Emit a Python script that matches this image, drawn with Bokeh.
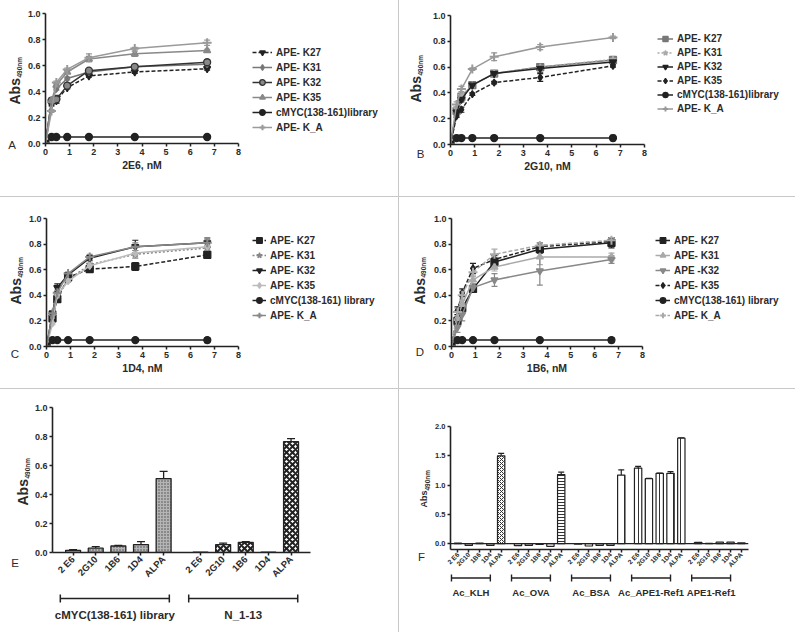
import math
from bokeh.plotting import figure
from bokeh.models import (FixedTicker, PrintfTickFormatter, Label, Legend, LegendItem,
                          Whisker, TeeHead, ColumnDataSource, Span, Range1d)
from bokeh.layouts import row, column
from bokeh.embed import file_html
from bokeh.resources import INLINE

FONT = "Liberation Sans"
TXT = "#2b2b2b"
AX = "#222222"

# ---------------- data ----------------
conc = [0, 0.25, 0.45, 0.9, 1.8, 3.7, 6.7]
x_ticks = [0, 1, 2, 3, 4, 5, 6, 7, 8]
y_ticks = [0.0, 0.2, 0.4, 0.6, 0.8, 1.0]

A_labels = ["APE- K27", "APE- K31", "APE- K32", "APE- K35", "cMYC(138-161)library", "APE- K_A"]
A_K27 = [0, 0.30, 0.33, 0.43, 0.52, 0.55, 0.575]
A_K31 = [0, 0.32, 0.42, 0.50, 0.55, 0.59, 0.61]
A_K32 = [0, 0.33, 0.34, 0.445, 0.56, 0.59, 0.625]
A_K35 = [0, 0.33, 0.45, 0.55, 0.65, 0.69, 0.715]
A_cMYC = [0, 0.05, 0.05, 0.05, 0.05, 0.05, 0.05]
A_KA = [0, 0.25, 0.47, 0.57, 0.66, 0.73, 0.775]
A_err = [[0, 0.01, 0.02, 0.01, 0.01, 0.01, 0.01],
         [0, 0.01, 0.01, 0.01, 0.01, 0.01, 0.01],
         [0, 0.02, 0.03, 0.02, 0.01, 0.01, 0.02],
         [0, 0.01, 0.01, 0.01, 0.02, 0.02, 0.01],
         [0, 0, 0, 0, 0, 0, 0.015],
         [0, 0.01, 0.01, 0.01, 0.03, 0.01, 0.02]]

B_labels = ["APE- K27", "APE- K31", "APE- K32", "APE- K35", "cMYC(138-161)library", "APE- K_A"]
B_K27 = [0, 0.26, 0.37, 0.46, 0.55, 0.60, 0.655]
B_K31 = [0, 0.28, 0.38, 0.46, 0.55, 0.60, 0.66]
B_K32 = [0, 0.25, 0.35, 0.46, 0.55, 0.59, 0.64]
B_K35 = [0, 0.22, 0.27, 0.39, 0.48, 0.52, 0.61]
B_cMYC = [0, 0.05, 0.05, 0.05, 0.05, 0.05, 0.05]
B_KA = [0, 0.31, 0.43, 0.585, 0.68, 0.755, 0.83]
B_err = [[0, 0.01, 0.02, 0.01, 0.02, 0.02, 0.01],
         [0, 0.01, 0.01, 0.01, 0.01, 0.01, 0.02],
         [0, 0.01, 0.02, 0.01, 0.02, 0.03, 0.01],
         [0, 0.01, 0.02, 0.01, 0.01, 0.03, 0.01],
         [0, 0, 0, 0, 0, 0, 0.02],
         [0, 0.02, 0.02, 0.01, 0.03, 0.02, 0.01]]

C_labels = ["APE- K27", "APE- K31", "APE- K32", "APE- K35", "cMYC(138-161) library", "APE- K_A"]
C_K27 = [0, 0.22, 0.37, 0.54, 0.605, 0.625, 0.716]
C_K31 = [0, 0.24, 0.40, 0.52, 0.64, 0.72, 0.77]
C_K32 = [0, 0.26, 0.46, 0.56, 0.69, 0.78, 0.81]
C_K35 = [0, 0.18, 0.40, 0.51, 0.63, 0.73, 0.78]
C_cMYC = [0, 0.05, 0.05, 0.05, 0.05, 0.05, 0.05]
C_KA = [0, 0.26, 0.42, 0.57, 0.70, 0.78, 0.81]
C_err = [[0, 0.02, 0.02, 0.01, 0.01, 0.03, 0.01],
         [0, 0.02, 0.02, 0.01, 0.01, 0.03, 0.02],
         [0, 0.02, 0.03, 0.02, 0.02, 0.05, 0.03],
         [0, 0.01, 0.02, 0.01, 0.01, 0.02, 0.02],
         [0, 0, 0, 0, 0, 0, 0.02],
         [0, 0.02, 0.02, 0.01, 0.02, 0.03, 0.04]]

D_labels = ["APE- K27", "APE- K31", "APE -K32", "APE- K35", "cMYC(138-161) library", "APE- K_A"]
D_K27 = [0, 0.20, 0.30, 0.45, 0.66, 0.76, 0.81]
D_K31 = [0, 0.22, 0.33, 0.52, 0.62, 0.70, 0.70]
D_K32 = [0, 0.15, 0.25, 0.46, 0.52, 0.59, 0.68]
D_K35 = [0, 0.28, 0.42, 0.61, 0.68, 0.78, 0.82]
D_cMYC = [0, 0.05, 0.05, 0.05, 0.05, 0.05, 0.05]
D_KA = [0, 0.27, 0.40, 0.58, 0.72, 0.79, 0.83]
D_err = [[0, 0.03, 0.03, 0.02, 0.03, 0.03, 0.04],
         [0, 0.03, 0.03, 0.03, 0.03, 0.06, 0.03],
         [0, 0.04, 0.05, 0.03, 0.05, 0.11, 0.03],
         [0, 0.03, 0.03, 0.04, 0.03, 0.03, 0.03],
         [0, 0, 0, 0, 0, 0, 0.02],
         [0, 0.03, 0.03, 0.03, 0.04, 0.02, 0.02]]

E_cats = ["2 E6", "2G10", "1B6", "1D4", "ALPA"]
E_groups = ["cMYC(138-161) library", "N_1-13"]
E_g1 = [0.015, 0.03, 0.045, 0.055, 0.51]
E_g1_err = [0.005, 0.01, 0.004, 0.02, 0.05]
E_g2 = [0.002, 0.055, 0.07, 0.002, 0.765]
E_g2_err = [0.0, 0.01, 0.004, 0.0, 0.02]

F_cats = ["2 E6", "2G10", "1B6", "1D4", "ALPA"]
F_groups = ["Ac_KLH", "Ac_OVA", "Ac_BSA", "Ac_APE1-Ref1", "APE1-Ref1"]
F_KLH = [0.008, -0.03, 0.01, -0.03, 1.50]
F_OVA = [-0.035, -0.03, -0.015, -0.045, 1.18]
F_BSA = [-0.01, -0.04, -0.03, -0.03, 1.17]
F_ACAPE = [1.29, 1.11, 1.20, 1.20, 1.80]
F_APE = [0.02, 0.005, 0.025, 0.025, 0.015]
F_KLH_err = [0, 0, 0, 0, 0.04]
F_OVA_err = [0, 0, 0, 0, 0.04]
F_BSA_err = [0, 0, 0, 0, 0.09]
F_ACAPE_err = [0.03, 0.005, 0.005, 0.03, 0.005]
F_APE_err = [0, 0, 0, 0, 0]

# ---------------- styles ----------------
# (color, marker, dash, fill)
A_styles = [("#222222", "inverted_triangle", "4 2", "#222222"),
            ("#777777", "diamond", "solid", "#777777"),
            ("#333333", "circle", "solid", "#888888"),
            ("#888888", "triangle", "solid", "#888888"),
            ("#222222", "circle", "solid", "#222222"),
            ("#9a9a9a", "cross", "solid", "#9a9a9a")]
B_styles = [("#777777", "square", "solid", "#777777"),
            ("#aaaaaa", "star", "2 2", "#aaaaaa"),
            ("#222222", "inverted_triangle", "solid", "#222222"),
            ("#222222", "diamond", "4 2", "#222222"),
            ("#222222", "circle", "solid", "#222222"),
            ("#999999", "cross", "solid", "#999999")]
C_styles = [("#222222", "square", "4 2", "#222222"),
            ("#888888", "star", "2 2", "#888888"),
            ("#222222", "inverted_triangle", "solid", "#222222"),
            ("#bbbbbb", "diamond", "solid", "#bbbbbb"),
            ("#222222", "circle", "solid", "#222222"),
            ("#888888", "cross", "solid", "#888888")]
D_styles = [("#222222", "square", "solid", "#222222"),
            ("#aaaaaa", "triangle", "solid", "#aaaaaa"),
            ("#888888", "inverted_triangle", "solid", "#888888"),
            ("#222222", "diamond", "4 2", "#222222"),
            ("#222222", "circle", "solid", "#222222"),
            ("#aaaaaa", "cross", "4 2", "#aaaaaa")]

WHITE = {"background-color": "white"}
GREY = {"background-color": "#c8c8c8"}


def new_fig(**kw):
    p = figure(output_backend="svg", toolbar_location=None, **kw)
    p.frame_align = False
    return p


def style_axes(p, fs="9px", fw="bold"):
    for ax in (p.xaxis[0], p.yaxis[0]):
        ax.axis_line_color = AX
        ax.axis_line_width = 1.6
        ax.major_tick_line_color = AX
        ax.major_tick_line_width = 1.5
        ax.major_tick_out = 3
        ax.major_tick_in = 0
        ax.minor_tick_line_color = None
        ax.major_label_text_font = FONT
        ax.major_label_text_font_size = fs
        ax.major_label_text_font_style = fw
        ax.major_label_text_color = TXT
        ax.major_label_standoff = 2
    p.xgrid.visible = False
    p.ygrid.visible = False
    p.outline_line_color = None


def blank_fig(w, h, xr, yr):
    s = new_fig(width=w, height=h, x_range=xr, y_range=yr, min_border=0,
                min_border_left=0, min_border_right=0, min_border_top=0, min_border_bottom=0,
                x_axis_location=None, y_axis_location=None)
    s.outline_line_color = None
    for g in s.grid:
        g.visible = False
    return s


def side_fig(ws, h, letter, letter_xy, abs_xy, big="14px", small="6.5px", blen=27, dx=4):
    """Left strip with the y-axis title and the panel letter (cell pixels, from top-left)."""
    s = blank_fig(ws, h, (0, ws), (0, h))
    ax, ay = abs_xy
    s.add_layout(Label(x=ax, y=h - ay, text="Abs", angle=math.pi / 2, text_align="left",
                       text_baseline="middle", text_font=FONT, text_font_size=big,
                       text_font_style="bold", text_color=TXT))
    s.add_layout(Label(x=ax + dx, y=h - ay + blen, text="490nm", angle=math.pi / 2,
                       text_align="left", text_baseline="middle", text_font=FONT,
                       text_font_size=small, text_font_style="bold", text_color=TXT))
    lx, ly = letter_xy
    s.add_layout(Label(x=lx, y=h - ly, text=letter, text_align="center",
                       text_baseline="middle", text_font=FONT, text_font_size="11.5px",
                       text_color=TXT))
    return s


def legend_fig(w, h, labels, series, styles, loc, glyph_w, item_h):
    """Legend strip; its renderers carry the real series but on an off-screen range."""
    f = blank_fig(w, h, (0, w), (0, h))
    f.extra_x_ranges = {"off": Range1d(1000, 1001)}
    items = []
    for lab, ys, (col, mk, dash, fill) in zip(labels, series, styles):
        lr = f.line(conc, ys, x_range_name="off", line_color=col, line_width=1.5,
                    line_dash=dash)
        sr = f.scatter(conc, ys, x_range_name="off", marker=mk,
                       size=7 if mk != "cross" else 9, line_color=col, fill_color=fill,
                       line_width=1.3 if mk != "cross" else 2)
        items.append(LegendItem(label=lab, renderers=[lr, sr]))
    leg = Legend(items=items, location=loc, padding=0, margin=0, spacing=1,
                 glyph_width=glyph_w, glyph_height=item_h, label_height=item_h,
                 label_standoff=4, border_line_alpha=0, background_fill_alpha=0,
                 label_text_font=FONT, label_text_font_size="10px",
                 label_text_font_style="bold", label_text_color=TXT)
    f.add_layout(leg)
    return f


def curve_cell(cw, ch, box, ws, xlabel, labels, series, errs, styles,
               letter, letter_xy, abs_xy, leg_glyph_x, leg_top, glyph_w, item_h):
    l, t, r, b = box
    rb = 6
    p = new_fig(width=r + rb - ws, height=ch, x_range=(0, 8), y_range=(0, 1.0),
                min_border_left=l - ws, min_border_right=rb, min_border_top=t,
                min_border_bottom=ch - b)
    style_axes(p)
    p.xaxis.ticker = FixedTicker(ticks=x_ticks)
    p.yaxis.ticker = FixedTicker(ticks=y_ticks)
    p.yaxis.formatter = PrintfTickFormatter(format="%.1f")
    p.xaxis.axis_label = xlabel
    p.xaxis.axis_label_text_font = FONT
    p.xaxis.axis_label_text_font_size = "10.5px"
    p.xaxis.axis_label_text_font_style = "bold"
    p.xaxis.axis_label_text_color = TXT
    p.xaxis.axis_label_standoff = 1
    for ys, es, (col, mk, dash, fill) in zip(series, errs, styles):
        p.line(conc, ys, line_color=col, line_width=1.5, line_dash=dash)
        p.scatter(conc, ys, marker=mk, size=7 if mk != "cross" else 9,
                  line_color=col, fill_color=fill, line_width=1.3 if mk != "cross" else 2)
        xs = [c for c, e in zip(conc, es) if e > 0]
        up = [v + e for v, e in zip(ys, es) if e > 0]
        lo = [v - e for v, e in zip(ys, es) if e > 0]
        if xs:
            src = ColumnDataSource(dict(x=xs, up=up, lo=lo))
            p.add_layout(Whisker(source=src, base="x", upper="up", lower="lo",
                                 line_color=col, line_width=1.2,
                                 upper_head=TeeHead(size=6, line_color=col, line_width=1.2),
                                 lower_head=TeeHead(size=6, line_color=col, line_width=1.2)))
    s = side_fig(ws, ch, letter, letter_xy, abs_xy)
    lw = cw - (r + rb)
    n = len(labels)
    leg_h = n * item_h + (n - 1)
    lf = legend_fig(lw, ch, labels, series, styles,
                    (leg_glyph_x - (r + rb), ch - (leg_top + leg_h)), glyph_w, item_h)
    return row(s, p, lf, spacing=0, styles=WHITE)


cellA = curve_cell(398, 196, (43, 13, 238, 143), 24, "2E6, nM", A_labels,
                   [A_K27, A_K31, A_K32, A_K35, A_cMYC, A_KA], A_err, A_styles,
                   "A", (11.5, 144), (14.5, 104), 252, 45, 20, 14)
cellB = curve_cell(396, 196, (49, 15, 245, 144), 30, "2G10, nM", B_labels,
                   [B_K27, B_K31, B_K32, B_K35, B_cMYC, B_KA], B_err, B_styles,
                   "B", (21, 153), (16.5, 102), 258, 32, 16, 13)
cellC = curve_cell(398, 191, (44, 21, 238, 149), 25, "1D4, nM", C_labels,
                   [C_K27, C_K31, C_K32, C_K35, C_cMYC, C_KA], C_err, C_styles,
                   "C", (14.5, 156.5), (15.5, 107), 252, 36, 14, 14)
cellD = curve_cell(396, 191, (50, 21, 243, 149), 31, "1B6, nM", D_labels,
                   [D_K27, D_K31, D_K32, D_K35, D_cMYC, D_KA], D_err, D_styles,
                   "D", (20.5, 154.5), (20, 107), 256, 36, 15, 14)

# ---------------- panel E ----------------
E_cw, E_mh, E_bh, E_ws = 398, 202, 41, 31
E_box = (50, 18, 310, 163)
E_xr = (-0.91, 10.49)
E_step = 5.63
E_pos = [round(i + g * E_step, 3) for g in range(2) for i in range(5)]
E_vals = E_g1 + E_g2
E_errs = E_g1_err + E_g2_err
l, t, r, b = E_box
pE = new_fig(width=E_cw - E_ws, height=E_mh, x_range=E_xr, y_range=(0, 1.0),
             min_border_left=l - E_ws, min_border_right=E_cw - r, min_border_top=t,
             min_border_bottom=E_mh - b)
style_axes(pE)
pE.yaxis.ticker = FixedTicker(ticks=y_ticks)
pE.yaxis.formatter = PrintfTickFormatter(format="%.1f")
pE.xaxis.ticker = FixedTicker(ticks=E_pos)
pE.xaxis.major_label_overrides = {p_: E_cats[k % 5] for k, p_ in enumerate(E_pos)}
pE.xaxis.major_label_orientation = math.pi / 4
pE.xaxis.major_label_text_font_size = "9.5px"
srcE = ColumnDataSource(dict(
    x=E_pos, top=E_vals,
    fc=["#b5b5b5"] * 5 + ["white"] * 5,
    hp=["."] * 5 + ["x"] * 5,
    hc=["#444444"] * 5 + ["#222222"] * 5,
    hs=[3.0] * 5 + [6.0] * 5,
    hw=[1.0] * 5 + [2.0] * 5,
))
pE.vbar(x="x", top="top", bottom=0, width=0.66, source=srcE, fill_color="fc",
        line_color=AX, line_width=1.3, hatch_pattern="hp", hatch_color="hc",
        hatch_scale="hs", hatch_weight="hw")
ex = [x for x, e in zip(E_pos, E_errs) if e > 0]
eu = [v + e for v, e in zip(E_vals, E_errs) if e > 0]
el = [v for v, e in zip(E_vals, E_errs) if e > 0]
pE.add_layout(Whisker(source=ColumnDataSource(dict(x=ex, up=eu, lo=el)), base="x",
                      upper="up", lower="lo", line_color=AX, line_width=1.3,
                      upper_head=TeeHead(size=8, line_color=AX, line_width=1.3),
                      lower_head=None))
sE = side_fig(E_ws, E_mh, "E", (14.5, 173.5), (22.5, 116))
E_scale = (r - l) / (E_xr[1] - E_xr[0])
bE = blank_fig(E_cw, E_bh, (E_xr[0] - l / E_scale, E_xr[0] + (E_cw - l) / E_scale), (0, E_bh))
E_br_lo = [E_pos[g * 5] - 0.48 for g in range(2)]
E_br_hi = [E_pos[g * 5 + 4] + 0.3 for g in range(2)]
bE.add_layout(Whisker(source=ColumnDataSource(dict(base=[E_bh - 7] * 2, lo=E_br_lo, hi=E_br_hi)),
                      base="base", lower="lo", upper="hi",
                      dimension="width", line_color=AX, line_width=1.5,
                      upper_head=TeeHead(size=8, line_color=AX, line_width=1.5),
                      lower_head=TeeHead(size=8, line_color=AX, line_width=1.5)))
for g, name in enumerate(E_groups):
    bE.add_layout(Label(x=(E_br_lo[g] + E_br_hi[g]) / 2, y=E_bh - 23, text=name,
                        text_align="center", text_baseline="middle", text_font=FONT,
                        text_font_size="11.5px", text_font_style="bold", text_color=TXT))

# ---------------- panel F ----------------
F_cw, F_mh, F_bh, F_ws = 396, 184, 59, 32
F_box = (51, 37, 349, 162)
F_xr = (-0.69, 26.9)
F_step = 5.56
F_pos = [round(i + g * F_step, 3) for g in range(5) for i in range(5)]
F_vals = F_KLH + F_OVA + F_BSA + F_ACAPE + F_APE
F_errs = F_KLH_err + F_OVA_err + F_BSA_err + F_ACAPE_err + F_APE_err
l, t, r, b = F_box
pF = new_fig(width=F_cw - F_ws, height=F_mh, x_range=F_xr, y_range=(-0.1, 2.0),
             min_border_left=l - F_ws, min_border_right=F_cw - r, min_border_top=t,
             min_border_bottom=F_mh - b)
style_axes(pF, fs="7.5px")
pF.yaxis.ticker = FixedTicker(ticks=[0.0, 0.5, 1.0, 1.5, 2.0])
pF.yaxis.formatter = PrintfTickFormatter(format="%.1f")
pF.xaxis.ticker = FixedTicker(ticks=F_pos)
pF.xaxis.major_label_overrides = {p_: F_cats[k % 5] for k, p_ in enumerate(F_pos)}
pF.xaxis.major_label_orientation = math.pi / 4
pF.xaxis.major_label_text_font_size = "6.5px"
pF.xaxis.major_label_standoff = 1
f_hp = [" "] * 4 + ["x"] + [" "] * 4 + ["-"] + [" "] * 4 + ["|"] + ["|"] * 5 + [" "] * 5
f_hs = [4.0] * 4 + [4.0] + [4.0] * 4 + [3.0] + [4.0] * 4 + [7.0] + [7.0] * 5 + [4.0] * 5
srcF = ColumnDataSource(dict(x=F_pos, top=F_vals, hp=f_hp, hs=f_hs))
pF.vbar(x="x", top="top", bottom=0, width=0.68, source=srcF, fill_color="white",
        line_color=AX, line_width=1.2, hatch_pattern="hp", hatch_color="#333333",
        hatch_scale="hs", hatch_weight=1.0)
pF.add_layout(Span(location=0, dimension="width", line_color=AX, line_width=1.3))
fx = [x for x, e in zip(F_pos, F_errs) if e > 0]
fu = [v + e for v, e in zip(F_vals, F_errs) if e > 0]
fl = [v for v, e in zip(F_vals, F_errs) if e > 0]
pF.add_layout(Whisker(source=ColumnDataSource(dict(x=fx, up=fu, lo=fl)), base="x",
                      upper="up", lower="lo", line_color=AX, line_width=1.2,
                      upper_head=TeeHead(size=6, line_color=AX, line_width=1.2),
                      lower_head=None))
sF = side_fig(F_ws, F_mh, "F", (22, 167), (24.5, 118), big="9px", small="6.5px", blen=17, dx=3)
F_scale = (r - l) / (F_xr[1] - F_xr[0])
bF = blank_fig(F_cw, F_bh, (F_xr[0] - l / F_scale, F_xr[0] + (F_cw - l) / F_scale), (0, F_bh))
F_br_lo = [F_pos[g * 5] - 0.6 for g in range(5)]
F_br_hi = [F_pos[g * 5 + 4] - 1.0 for g in range(5)]
bF.add_layout(Whisker(source=ColumnDataSource(dict(base=[F_bh - 4.5] * 5, lo=F_br_lo, hi=F_br_hi)),
                      base="base", lower="lo", upper="hi",
                      dimension="width", line_color=AX, line_width=1.4,
                      upper_head=TeeHead(size=7, line_color=AX, line_width=1.4),
                      lower_head=TeeHead(size=7, line_color=AX, line_width=1.4)))
for g, name in enumerate(F_groups):
    bF.add_layout(Label(x=(F_br_lo[g] + F_br_hi[g]) / 2, y=F_bh - 19, text=name,
                        text_align="center", text_baseline="middle", text_font=FONT,
                        text_font_size="9.5px", text_font_style="bold", text_color=TXT))

cellE = column(row(sE, pE, spacing=0, styles=WHITE), bE, spacing=0, styles=WHITE)
cellF = column(row(sF, pF, spacing=0, styles=WHITE), bF, spacing=0, styles=WHITE)
layout = column(row(cellA, cellB, spacing=1, styles=GREY),
                row(cellC, cellD, spacing=1, styles=GREY),
                row(cellE, cellF, spacing=1, styles=GREY),
                spacing=1, styles=GREY)

open("out.html", "w").write(file_html(layout, INLINE))
